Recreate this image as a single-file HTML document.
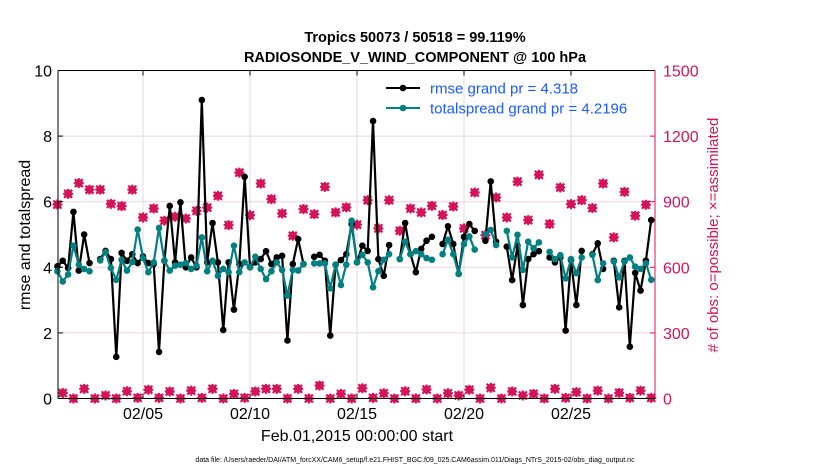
<!DOCTYPE html>
<html><head><meta charset="utf-8"><style>
body{margin:0;background:#fff;width:830px;height:470px;overflow:hidden;font-family:"Liberation Sans",sans-serif}
svg{display:block}
</style></head><body>
<svg id="chart" width="830" height="470" xmlns="http://www.w3.org/2000/svg">
<text x="415" y="42" text-anchor="middle" font-size="14.5" font-weight="bold">Tropics 50073 / 50518 = 99.119%</text>
<text x="415" y="62" text-anchor="middle" font-size="14.5" font-weight="bold">RADIOSONDE_V_WIND_COMPONENT @ 100 hPa</text>
<g id="grid"></g>
<g id="marks"></g>
<g id="axes"></g>
<text transform="translate(30,235) rotate(-90)" text-anchor="middle" font-size="16">rmse and totalspread</text>
<text transform="translate(718,235) rotate(-90)" text-anchor="middle" font-size="15" fill="#d4145a"># of obs: o=possible; ×=assimilated</text>
<text x="357" y="441" text-anchor="middle" font-size="16">Feb.01,2015 00:00:00 start</text>
<text x="415" y="462" text-anchor="middle" font-size="7">data file: /Users/raeder/DAI/ATM_forcXX/CAM6_setup/f.e21.FHIST_BGC.f09_025.CAM6assim.011/Diags_NTrS_2015-02/obs_diag_output.nc</text>
<g>
<line x1="386" y1="88" x2="420" y2="88" stroke="#000" stroke-width="2"/><circle cx="403" cy="88" r="3.3" fill="#000"/>
<text x="430" y="93.5" font-size="15" fill="#1a5cff">rmse grand pr = 4.318</text>
<line x1="386" y1="108" x2="420" y2="108" stroke="#008080" stroke-width="2"/><circle cx="403" cy="108" r="3.3" fill="#008080"/>
<text x="430" y="113.5" font-size="15" fill="#1a5cff">totalspread grand pr = 4.2196</text>
</g>
</svg>
<script>
const rmse=[4.03,4.2,3.98,5.69,3.9,5.0,4.13,null,4.25,4.5,4.25,1.27,4.44,4.2,4.4,4.13,4.33,4.13,4.1,1.42,4.2,5.87,4.15,5.98,4.0,4.3,4.0,9.1,4.15,5.35,4.15,2.09,4.15,2.71,4.1,6.76,4.0,4.15,4.25,4.49,4.1,4.3,4.35,1.77,4.1,4.86,4.1,null,4.32,4.38,4.2,1.92,4.08,4.22,4.4,5.32,4.15,4.66,4.5,8.46,4.25,3.74,4.68,null,4.25,5.35,4.4,3.85,4.56,4.81,4.93,null,4.71,5.25,4.71,3.8,4.93,5.32,5.11,null,4.81,6.62,4.78,null,4.63,3.61,4.66,2.85,4.25,4.4,4.49,null,4.3,4.15,4.3,2.07,4.22,2.85,4.5,null,4.4,4.73,3.95,null,4.2,2.78,4.2,1.58,3.83,3.29,4.2,5.44];
const spread=[3.88,3.57,3.78,4.66,4.08,3.95,3.88,null,4.21,4.46,3.98,3.62,4.23,3.9,4.16,5.15,4.28,3.85,4.15,5.2,4.2,3.9,4.05,4.08,4.13,3.95,4.05,4.91,3.88,4.2,3.74,3.95,3.85,4.66,3.85,4.15,4.0,4.32,3.95,3.64,3.88,4.15,3.92,3.14,3.92,3.9,4.1,null,4.12,4.12,4.12,3.36,4.08,3.46,4.08,5.42,4.15,4.38,4.15,3.39,3.88,4.23,4.4,null,4.25,4.78,4.4,4.49,4.4,4.28,4.23,null,4.4,4.84,4.4,3.8,4.71,4.94,4.54,null,5.01,5.14,4.68,null,5.11,4.3,4.99,3.92,4.78,4.58,4.76,null,4.47,4.25,4.37,3.66,4.25,3.82,4.3,null,4.38,3.61,4.12,null,4.18,3.69,4.18,4.3,4.02,3.95,4.12,3.62];
const nobs=[887,25,936,0,985,44,955,0,955,14,890,0,880,33,955,3,828,40,869,3,813,32,831,0,823,36,858,3,873,44,927,0,793,21,1033,3,838,32,983,44,912,44,846,0,744,44,866,0,843,59,968,0,851,21,874,0,795,47,907,3,778,24,907,0,767,33,869,0,851,41,881,0,839,24,878,14,778,40,942,0,747,49,919,0,828,32,992,14,816,21,1023,0,798,44,965,3,889,29,907,0,871,36,983,0,737,26,945,3,836,36,886,3];
const leftTicks=[0,2,4,6,8,10];
const rightTicks=[0,300,600,900,1200,1500];
const dateTicks=[5,10,15,20,25];
const dateLabels=["02/05","02/10","02/15","02/20","02/25"];
const startDay=1, stepDays=0.25;

const L=58,R=655,T=70.5,B=398.5;
const xs=d=>57.4+(d-1)*21.4;
const yl=v=>B-(v/10)*(B-T);
const yr=v=>B-(v/1500)*(B-T);
const NS="http://www.w3.org/2000/svg";
function mk(tag,parent,attrs){const e=document.createElementNS(NS,tag);for(const k in attrs)e.setAttribute(k,attrs[k]);parent.appendChild(e);return e;}
const grid=document.getElementById('grid'),marks=document.getElementById('marks'),axes=document.getElementById('axes');
const MAG="#d4145a";
leftTicks.forEach(v=>{if(v>0&&v<10){const g=mk('line',grid,{x1:L,x2:R,y1:yl(v),y2:yl(v),stroke:"#f0d3dd","stroke-width":1});

}
const t=mk('text',axes,{x:L-6,y:yl(v)+6,'text-anchor':'end','font-size':16});t.textContent=v;


mk('line',axes,{x1:L,x2:L+5,y1:yl(v),y2:yl(v),stroke:"#000"});});
rightTicks.forEach(v=>{const t=mk('text',axes,{x:R+8,y:yr(v)+6,'font-size':16,fill:MAG});t.textContent=v;


mk('line',axes,{x1:R-5,x2:R,y1:yr(v),y2:yr(v),stroke:MAG});});
dateTicks.forEach((d,i)=>{const g=mk('line',grid,{x1:xs(d),x2:xs(d),y1:T,y2:B,stroke:"#dcdcdc","stroke-width":1});


const t=mk('text',axes,{x:xs(d),y:419,'text-anchor':'middle','font-size':16});t.textContent=dateLabels[i];


mk('line',axes,{x1:xs(d),x2:xs(d),y1:B,y2:B-5,stroke:"#000"});mk('line',axes,{x1:xs(d),x2:xs(d),y1:T,y2:T+5,stroke:"#000"});});
mk('line',axes,{x1:L,x2:L,y1:T,y2:B,stroke:"#000"});
mk('line',axes,{x1:L,x2:R,y1:T,y2:T,stroke:"#000"});
mk('line',axes,{x1:L,x2:R,y1:B,y2:B,stroke:"#000"});
mk('line',axes,{x1:R,x2:R,y1:T,y2:B,stroke:MAG});
// obs markers
nobs.forEach((v,i)=>{const x=xs(startDay+i*stepDays),y=yr(v);const g=mk('g',marks,{});


mk('circle',g,{cx:x,cy:y,r:3.2,fill:"none",stroke:MAG,"stroke-width":1.8});
mk('path',g,{d:`M${x-4},${y-4}L${x+4},${y+4}M${x-4},${y+4}L${x+4},${y-4}`,stroke:MAG,"stroke-width":2.2});
mk('path',g,{d:`M${x-5},${y}L${x+5},${y}M${x},${y-5}L${x},${y+5}`,stroke:MAG,"stroke-width":2});});
function series(arr,color,name){let d="",pen=false;arr.forEach((v,i)=>{if(v===null){pen=false;return;}const x=xs(startDay+i*stepDays),y=yl(v);d+=(pen?"L":"M")+x.toFixed(1)+","+y.toFixed(1);pen=true;});
const p=mk('path',marks,{d:d,fill:"none",stroke:color,"stroke-width":2.2,"stroke-linejoin":"round"});


arr.forEach((v,i)=>{if(v===null)return;const c=mk('circle',marks,{cx:xs(startDay+i*stepDays),cy:yl(v),r:3.3,fill:color});

});}
series(rmse,"#000","rmse");
series(spread,"#008080","totalspread");
</script>
</body></html>
